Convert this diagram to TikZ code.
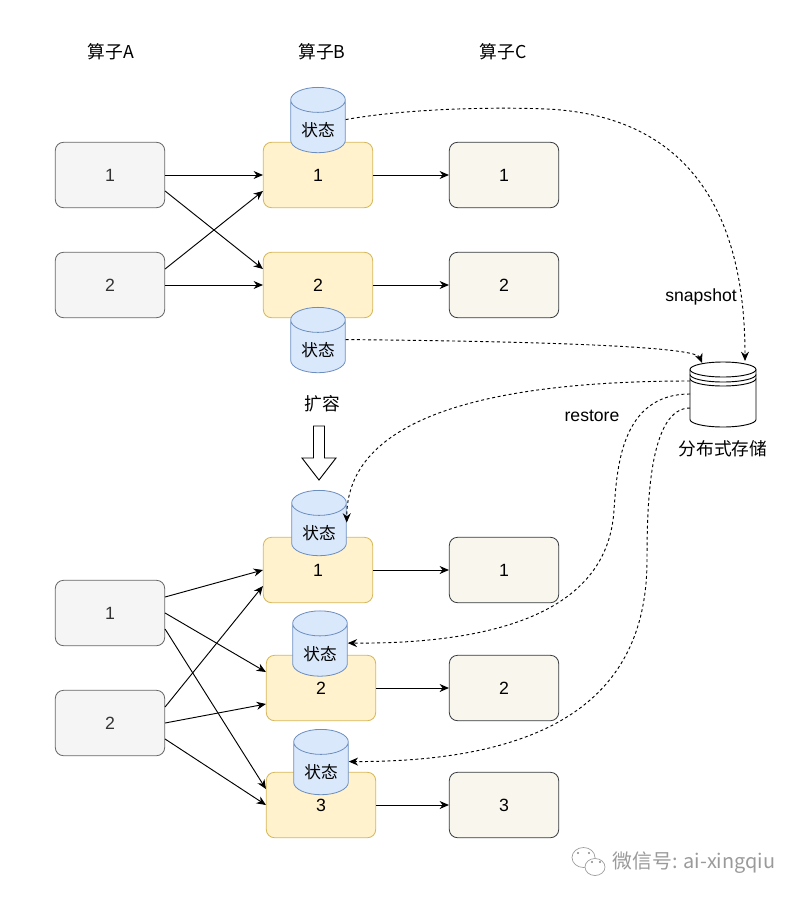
\documentclass[tikz,border=0pt]{standalone}
\usepackage{fontspec}
\setmainfont{Liberation Sans}
\newfontfamily\cjk{Noto Sans CJK SC}
\usetikzlibrary{arrows.meta,shapes.geometric}
\definecolor{grayfill}{HTML}{F5F5F5}
\definecolor{graydraw}{HTML}{666666}
\definecolor{yellowfill}{HTML}{FFF2CC}
\definecolor{yellowdraw}{HTML}{D6B656}
\definecolor{creamfill}{HTML}{F9F7ED}
\definecolor{creamdraw}{HTML}{36393D}
\definecolor{bluefill}{HTML}{DAE8FC}
\definecolor{bluedraw}{HTML}{6C8EBF}
\definecolor{markgray}{HTML}{9A9A9A}
\tikzset{
    basebox/.style={draw, rounded corners=6pt, minimum width=82pt, minimum height=49pt, inner sep=0pt, text height=10pt, text depth=0pt, font=\fontsize{13.3}{15}\selectfont, line width=0.6pt},
    opa/.style={basebox, draw=graydraw, fill=grayfill, text=black!80},
    opb/.style={basebox, draw=yellowdraw, fill=yellowfill},
    opc/.style={basebox, draw=creamdraw, fill=creamfill},
    statecyl/.style={cylinder, shape border rotate=90, aspect=0.75, draw=bluedraw, fill=bluefill, minimum width=41pt, minimum height=49pt, inner sep=0pt, text height=15pt, text depth=0pt, line width=0.6pt, font=\cjk\fontsize{12.5}{14}\selectfont},
    flow/.style={-{Stealth[length=7pt,width=6pt]}, line width=0.7pt},
    sync/.style={-{Stealth[length=7pt,width=6pt]}, line width=0.7pt, dash pattern=on 2.2pt off 2pt},
    caption/.style={inner sep=0pt, font=\cjk\fontsize{13.3}{15}\selectfont},
    latinlabel/.style={inner sep=0pt, font=\fontsize{13.2}{15}\selectfont},
}
\begin{document}
\begin{tikzpicture}[x=0.75pt,y=-0.75pt]
    \useasboundingbox (0,0) rectangle (801,899);

    %Antes de escalar
    \node[caption] (titleA) at (111,52) {算子A};
    \node[caption] (titleB) at (322,52) {算子B};
    \node[caption] (titleC) at (503,52) {算子C};

    \node[opa] (a1) at (110,175) {1};
    \node[opa] (a2) at (110,285) {2};
    \node[opb] (b1) at (318,175) {1};
    \node[opb] (b2) at (318,285) {2};
    \node[opc] (c1) at (504,175) {1};
    \node[opc] (c2) at (504,285) {2};

    \node[statecyl] (s1) at (318,126.5) {状态};
    \node[statecyl] (s2) at (318,346.5) {状态};

    \draw[flow] (a1) -- (b1);
    \draw[flow] ([yshift=-12pt]a1.east) -- ([yshift=12pt]b2.west);
    \draw[flow] ([yshift=12pt]a2.east) -- ([yshift=-12pt]b1.west);
    \draw[flow] (a2) -- (b2);
    \draw[flow] (b1) -- (c1);
    \draw[flow] (b2) -- (c2);

    %Almacenamiento
    \filldraw[fill=white, line width=0.7pt] (690,369.5) arc (180:360:33 and 7.5) -- (756,419.5) arc (0:180:33 and 7.5) -- cycle;
    \draw[line width=0.7pt] (690,369.5) arc (180:0:33 and 7.5);
    \draw[line width=0.7pt] (690,374.5) arc (180:0:33 and 7.5);
    \draw[line width=0.7pt] (690,378.5) arc (180:0:33 and 7.5);
    \node[caption] (storelabel) at (723,449) {分布式存储};

    \coordinate (snapin) at (745,361);
    \coordinate (restin) at (702,363);
    \coordinate (out1) at (690,381);
    \coordinate (out2) at (690,394);
    \coordinate (out3) at (690,408);

    \node[latinlabel] (snaplabel) at (701,297) {snapshot};
    \node[latinlabel] (restlabel) at (592,416) {restore};

    \draw[sync] ([yshift=5.2pt]s1.east) .. controls (410,108) and (500,107) .. (547,109) .. controls (670,115) and (745,190) .. (snapin);
    \draw[sync] ([yshift=5.2pt]s2.east) .. controls (500,341) and (695,345) .. (restin);

    %Flecha de escalado
    \node[caption] (growlabel) at (322,404) {扩容};
    \draw[line width=0.7pt, fill=white] (313.5,426) -- (324.5,426) -- (324.5,458) -- (336,458) -- (319,480) -- (302,458) -- (313.5,458) -- cycle;

    %Despues de escalar
    \node[opa] (a3) at (110,613) {1};
    \node[opa] (a4) at (110,723) {2};
    \node[opb] (b3) at (318,570) {1};
    \node[opb] (b4) at (321,688) {2};
    \node[opb] (b5) at (321,805) {3};
    \node[opc] (c3) at (504,570) {1};
    \node[opc] (c4) at (504,688) {2};
    \node[opc] (c5) at (504,805) {3};

    \node[statecyl] (s3) at (319,529.5) {状态};
    \node[statecyl] (s4) at (320,650) {状态};
    \node[statecyl] (s5) at (321,768.5) {状态};

    \draw[flow] ([yshift=12pt]a3.east) -- (b3.west);
    \draw[flow] (a3.east) -- ([yshift=12pt]b4.west);
    \draw[flow] ([yshift=-12pt]a3.east) -- ([yshift=12pt]b5.west);
    \draw[flow] ([yshift=12pt]a4.east) -- ([yshift=-12pt]b3.west);
    \draw[flow] (a4.east) -- ([yshift=-12pt]b4.west);
    \draw[flow] ([yshift=-12pt]a4.east) -- (b5.west);
    \draw[flow] (b3) -- (c3);
    \draw[flow] (b4) -- (c4);
    \draw[flow] (b5) -- (c5);

    \draw[sync] (out1) .. controls (510,381) and (347,410) .. ([yshift=5.2pt]s3.east);
    \draw[sync] (out2) .. controls (620,394) and (617,470) .. (614,510) .. controls (608,610) and (500,644) .. ([yshift=5.2pt]s4.east);
    \draw[sync] (out3) .. controls (650,408) and (647,500) .. (647,560) .. controls (647,690) and (560,762) .. ([yshift=5.2pt]s5.east);

    %Marca de agua
    \draw[markgray, line width=0.5pt] (583.5,857.5) ellipse (11.5 and 10);
    \draw[markgray, line width=0.5pt, fill=white] (595,867) ellipse (10 and 8.5);
    \filldraw[markgray] (578,853) circle (0.8);
    \filldraw[markgray] (589,853) circle (0.8);
    \filldraw[markgray] (592,862) circle (0.8);
    \filldraw[markgray] (600,862) circle (0.8);
    \node[inner sep=0pt, text=markgray, font=\cjk\fontsize{14.9}{16}\selectfont] (mark) at (694,863) {微信号: ai-xingqiu};
\end{tikzpicture}
\end{document}
